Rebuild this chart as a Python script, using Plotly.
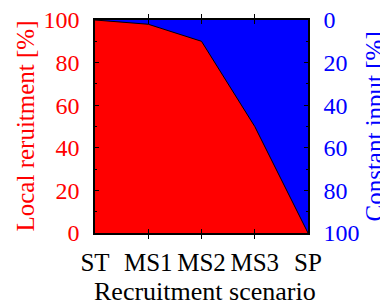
import plotly.graph_objects as go

scenarios = ["ST", "MS1", "MS2", "MS3", "SP"]
local_recruitment = [100, 98, 90, 50, 0]
total = [100, 100, 100, 100, 100]
x_pos = list(range(len(scenarios)))
y_ticks = [0, 20, 40, 60, 80, 100]

FONT = "Liberation Serif"
YTICK = 24
XTICK = 25
TITLE = 25

fig = go.Figure()
fig.add_trace(go.Scatter(x=x_pos, y=total, mode="lines", fill="tozeroy",
                         fillcolor="#0000ff", line=dict(color="#0000ff", width=0),
                         showlegend=False, hoverinfo="skip"))
fig.add_trace(go.Scatter(x=x_pos, y=local_recruitment, mode="lines", fill="tozeroy",
                         fillcolor="#ff0000", line=dict(color="black", width=1),
                         showlegend=False))
fig.add_trace(go.Scatter(x=x_pos, y=[100 - v for v in local_recruitment], yaxis="y2",
                         mode="lines", line=dict(width=0), showlegend=False,
                         hoverinfo="skip"))

fig.update_layout(
    width=380, height=294,
    margin=dict(l=87, r=80, t=12, b=69, autoexpand=False),
    paper_bgcolor="white", plot_bgcolor="white",
    font=dict(family=FONT, size=YTICK, color="black"),
    xaxis=dict(range=[0, 4], tickvals=x_pos, ticktext=scenarios, automargin=False,
               ticks="inside", ticklen=4, tickcolor="black", mirror="allticks",
               ticklabelstandoff=6, ticklabeloverflow="allow",
               showline=True, linecolor="black", linewidth=1.5, showgrid=False,
               zeroline=False, tickfont=dict(family=FONT, size=XTICK, color="black")),
    yaxis=dict(range=[0, 100], tickvals=y_ticks, automargin=False,
               ticks="inside", ticklen=4, tickcolor="black",
               ticklabelstandoff=9, ticklabeloverflow="allow",
               minor=dict(dtick=10, ticks="inside", ticklen=2, tickcolor="black"),
               showline=True, linecolor="black", linewidth=1.5, showgrid=False,
               zeroline=False, tickfont=dict(family=FONT, size=YTICK, color="#ff0000")),
    yaxis2=dict(range=[100, 0], overlaying="y", side="right", automargin=False,
                tickvals=y_ticks,
                ticks="inside", ticklen=4, tickcolor="black",
                ticklabelstandoff=9, ticklabeloverflow="allow",
                minor=dict(dtick=10, ticks="inside", ticklen=2, tickcolor="black"),
                showline=True, linecolor="black", linewidth=1.5, showgrid=False,
                zeroline=False, tickfont=dict(family=FONT, size=YTICK, color="#0000ff")),
    annotations=[
        dict(text="Local reruitment [%]", xref="paper", yref="paper", x=0, y=0.5,
             xshift=-70, textangle=-90, showarrow=False, xanchor="center", yanchor="middle",
             font=dict(family=FONT, size=TITLE, color="#ff0000")),
        dict(text="Constant input [%]", xref="paper", yref="paper", x=1, y=0.5,
             xshift=66, textangle=-90, showarrow=False, xanchor="center", yanchor="middle",
             font=dict(family=FONT, size=TITLE, color="#0000ff")),
        dict(text="Recruitment scenario", xref="paper", yref="paper", x=0.5, y=0,
             xshift=3, yshift=-58, showarrow=False, xanchor="center", yanchor="middle",
             font=dict(family=FONT, size=26, color="black")),
    ],
)

fig.write_html("out.html")
